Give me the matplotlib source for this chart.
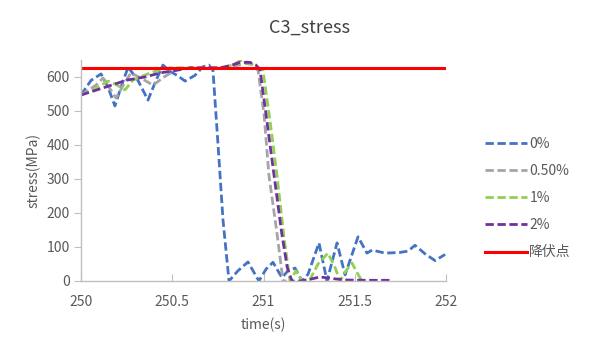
import matplotlib
matplotlib.use("Agg")
import matplotlib.pyplot as plt

plt.rcParams['font.family'] = ['Noto Sans CJK SC', 'DejaVu Sans']

# ---- data ----
t_0 = [250.000, 250.055, 250.110, 250.148, 250.186, 250.219, 250.258, 250.312, 250.367,
       250.411, 250.449, 250.493, 250.532, 250.570, 250.625, 250.668, 250.701, 250.723,
       250.751, 250.778, 250.811, 250.860, 250.915, 250.975, 251.014, 251.052, 251.101,
       251.134, 251.173, 251.211, 251.244, 251.304, 251.348, 251.403, 251.447, 251.518,
       251.567, 251.595, 251.666, 251.748, 251.792, 251.830, 251.885, 251.940, 251.995]
s_0 = [547, 590, 609, 570, 515, 570, 629, 590, 532,
       590, 635, 615, 603, 588, 605, 630, 635, 620,
       400, 180, 0, 30, 56, 0, 35, 55, 10,
       30, 38, 0, 20, 112, 0, 112, 18, 130,
       82, 91, 82, 84, 88, 105, 80, 60, 78]

t_050 = [250.000, 250.082, 250.121, 250.159, 250.192, 250.236, 250.274, 250.334, 250.395,
         250.455, 250.515, 250.597, 250.734, 250.816, 250.899, 250.937, 250.970,
         251.003, 251.030, 251.074, 251.107, 251.125]
s_050 = [547, 576, 597, 565, 538, 580, 612, 595, 576,
         600, 620, 627, 627, 628, 640, 637, 620,
         490, 310, 140, 0, 0]

t_1 = [250.000, 250.066, 250.148, 250.192, 250.241, 250.285, 250.351, 250.422, 250.488,
       250.542, 250.707, 250.789, 250.844, 250.882, 250.926, 250.959,
       250.997, 251.036, 251.074, 251.112, 251.145, 251.178, 251.211, 251.255, 251.299,
       251.353, 251.392, 251.419, 251.452, 251.485, 251.512, 251.540]
s_1 = [547, 562, 588, 578, 562, 591, 606, 620, 627,
       627, 625, 627, 640, 650, 640, 632,
       620, 470, 310, 130, 0, 30, 0, 5, 50,
       82, 40, 0, 30, 53, 25, 0]

t_2 = [250.000, 250.104, 250.252, 250.351, 250.433, 250.526, 250.600, 250.762, 250.827,
       250.871, 250.926, 250.959, 250.981, 251.014, 251.058, 251.100, 251.130, 251.156,
       251.200, 251.255, 251.310, 251.364, 251.447, 251.556, 251.710]
s_2 = [547, 565, 591, 600, 612, 620, 627, 627, 635,
       643, 643, 635, 620, 490, 310, 140, 40, 0,
       0, 5, 12, 8, 3, 2, 2]

t_yield = [250.0, 252.0]
s_yield = [627, 627]

labels = ['0%', '0.50%', '1%', '2%', '降伏点']
x_ticks = [250, 250.5, 251, 251.5, 252]
x_ticklabels = ['250', '250.5', '251', '251.5', '252']
y_ticks = [0, 100, 200, 300, 400, 500, 600]

# ---- figure ----
fig = plt.figure(figsize=(5.9, 3.54), dpi=100)
ax = fig.add_axes([81/590, 1-281/354, (446-81)/590, (281-60)/354])

dash = (3, 1.3)
lw = 2.0
ax.plot(t_0, s_0, color='#4472C4', lw=lw, linestyle=(0, dash), label=labels[0])
ax.plot(t_050, s_050, color='#A5A5A5', lw=lw, linestyle=(0, dash), label=labels[1])
ax.plot(t_1, s_1, color='#92D050', lw=lw, linestyle=(0, dash), label=labels[2])
ax.plot(t_2, s_2, color='#7030A0', lw=lw, linestyle=(0, dash), label=labels[3])
ax.plot(t_yield, s_yield, color='#FF0000', lw=2.2, label=labels[4])

ax.set_xlim(250, 252)
ax.set_ylim(0, 650)
ax.set_xticks(x_ticks)
ax.set_xticklabels(x_ticklabels)
ax.set_yticks(y_ticks)

for s in ['top', 'right']:
    ax.spines[s].set_visible(False)
for s in ['left', 'bottom']:
    ax.spines[s].set_color('#BFBFBF')
    ax.spines[s].set_linewidth(1.0)

ax.tick_params(axis='x', direction='in', length=5, color='#BFBFBF',
               labelsize=10, labelcolor='#595959', pad=10)
ax.tick_params(axis='y', direction='out', length=5, color='#BFBFBF',
               labelsize=10, labelcolor='#595959', pad=3)

ax.set_xlabel('time(s)', fontsize=10, color='#595959', labelpad=6)
ax.set_ylabel('stress(MPa)', fontsize=10, color='#595959', labelpad=4)

fig.text(310/590, 1-28/354, 'C3_stress', fontsize=13, color='#404040',
         ha='center', va='center')

fig.legend(loc='center left', bbox_to_anchor=(478/590, 1-198/354), frameon=False,
           fontsize=10, labelcolor='#595959', handlelength=3.0, handletextpad=0.2,
           labelspacing=0.95, borderpad=0)

fig.savefig('out.png', dpi=100)
